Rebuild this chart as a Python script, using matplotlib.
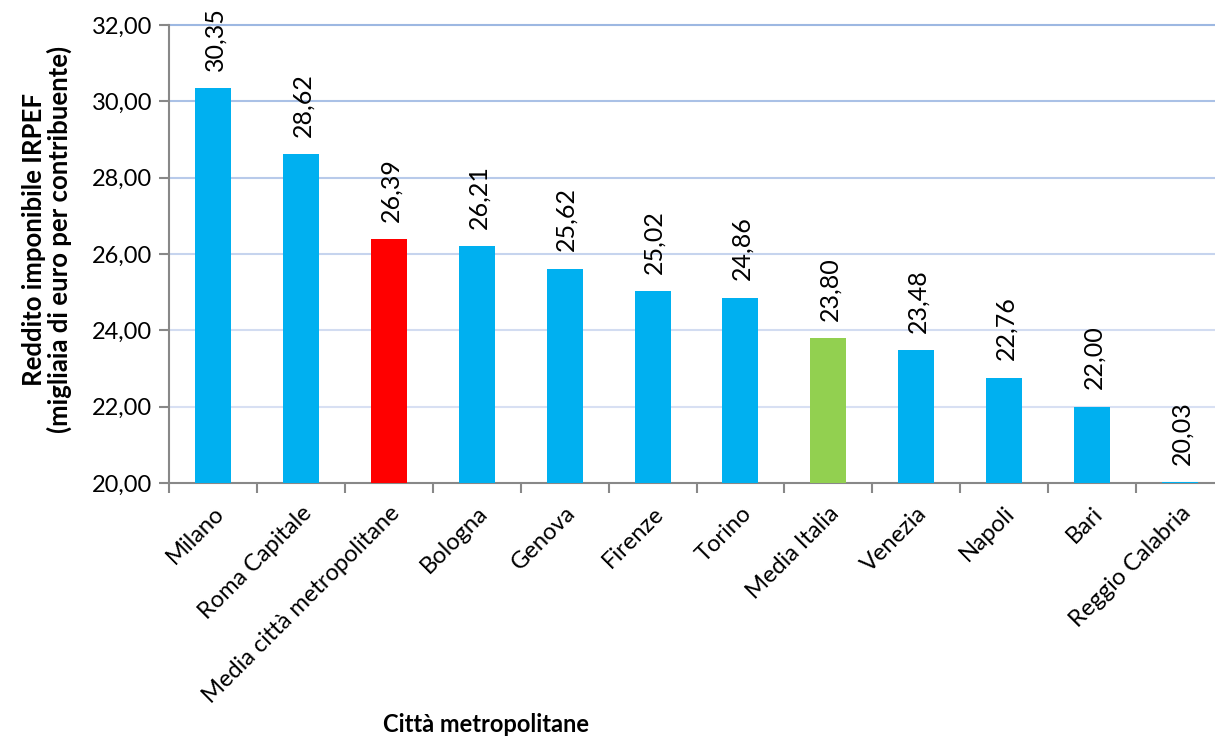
import numpy as np
import matplotlib.pyplot as plt

plt.rcParams['font.family'] = ['Lato', 'DejaVu Sans']

cities = ['Milano', 'Roma Capitale', 'Media città metropolitane', 'Bologna',
          'Genova', 'Firenze', 'Torino', 'Media Italia', 'Venezia', 'Napoli',
          'Bari', 'Reggio Calabria']
values = [30.35, 28.62, 26.39, 26.21, 25.62, 25.02, 24.86, 23.80, 23.48,
          22.76, 22.00, 20.03]
colors = ['#00B0F0'] * len(cities)
colors[2] = '#FF0000'
colors[7] = '#92D050'

yticks = np.arange(20, 33, 2)
# grid lines fade from top to bottom in the original
grid_colors = ['#D8E0F3', '#D2DCF1', '#C6D4EE', '#B8CAEA', '#AAC1E6', '#9DB8E2']

fig = plt.figure(figsize=(12.15, 7.37), dpi=100)
ax = fig.add_axes([169 / 1215, 1 - 483 / 737, (1224 - 169) / 1215, (483 - 25) / 737])

x = np.arange(len(cities))
base = 20
ax.bar(x, np.array(values) - base, bottom=base, width=0.41, color=colors,
       zorder=3)

for xi, v in zip(x, values):
    ax.text(xi + 0.02, v + 0.45, '{:.2f}'.format(v).replace('.', ','), rotation=90,
            ha='center', va='bottom', fontsize=18)

ax.set_xlim(-0.5, len(cities) - 0.5)
ax.set_ylim(20, 32)
ax.set_yticks(yticks)
ax.set_yticklabels(['{:.2f}'.format(t).replace('.', ',') for t in yticks],
                   fontsize=17)
for t, c in zip(yticks[1:], grid_colors):
    ax.axhline(t, color=c, linewidth=1.5, zorder=0, clip_on=False)

ax.set_xticks(x)
ax.set_xticklabels(cities, rotation=45, ha='right', rotation_mode='anchor',
                   fontsize=17)
ax.set_xticks(np.arange(-0.5, len(cities), 1), minor=True)
ax.tick_params(axis='x', which='major', length=0, pad=14)
ax.tick_params(axis='x', which='minor', length=7, color='#888888', width=1.5)
ax.tick_params(axis='y', length=7, color='#888888', width=1.5, pad=5)

for s in ['top', 'right']:
    ax.spines[s].set_visible(False)
for s in ['left', 'bottom']:
    ax.spines[s].set_color('#888888')
    ax.spines[s].set_linewidth(1.5)

ax.set_ylabel('Reddito imponibile IRPEF\n(migliaia di euro per contribuente)',
              fontsize=18.5, fontweight='bold', linespacing=1.05)
ax.yaxis.set_label_coords((72 - 169) / 1055, (483 - 239) / 458)
fig.text(486 / 1215, 1 - 725 / 737, 'Città metropolitane', ha='center',
         va='center', fontsize=17, fontweight='bold')

fig.savefig('out.png', dpi=100)
